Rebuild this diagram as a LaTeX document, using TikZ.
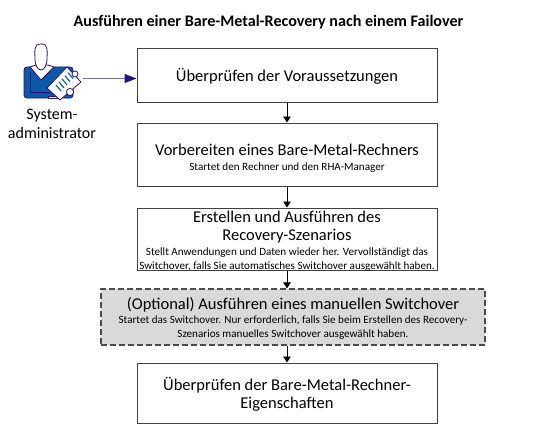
\documentclass[tikz,border=0pt]{standalone}
\usepackage{fontspec}
\setmainfont{Carlito}
\usetikzlibrary{arrows.meta}
\definecolor{navy}{HTML}{2A0F7A}
\definecolor{lineP}{HTML}{7566A8}
\definecolor{iconblue}{HTML}{0B5AA8}
\tikzset{
 stepbox/.style={draw=black!75,line width=1pt,fill=white,minimum width=300pt,align=center,inner sep=0pt},
 optbox/.style={draw=black!70,line width=1.1pt,dash pattern=on 6pt off 3pt,fill=black!15,minimum width=384pt,align=center,inner sep=0pt},
 flow/.style={draw=black,line width=.8pt,-{Triangle[length=6pt,width=7.5pt]}},
 big/.style={font=\fontsize{16.5}{18.5}\selectfont},
 iconln/.style={draw=navy,line width=.8pt,line join=round},
}
\newcommand{\smalltxt}{\fontsize{11.1}{14}\selectfont}
\begin{document}
\begin{tikzpicture}[x=1pt,y=-1pt]
\useasboundingbox[fill=white] (0,0) rectangle (533,428);
\node[font=\bfseries\fontsize{16.1}{18}\selectfont] (title) at (268.5,22) {Ausführen einer Bare-Metal-Recovery nach einem Failover};
\node[stepbox,minimum height=53pt] (a) at (287,75.5) {};
\node[big] (at) at (287,76) {Überprüfen der Voraussetzungen};
\node[stepbox,minimum height=63pt] (b) at (287,154.5) {};
\node[big] (bt) at (287,150) {Vorbereiten eines Bare-Metal-Rechners};
\node[font=\smalltxt] (bs) at (287,167.5) {Startet den Rechner und den RHA-Manager};
\node[stepbox,minimum height=62pt] (c) at (287,239) {};
\node[big,align=center] (ct) at (287,227) {Erstellen und Ausführen des\\Recovery-Szenarios};
\node[font=\smalltxt,align=center] (cs) at (287,260) {Stellt Anwendungen und Daten wieder her. Vervollständigt das\\Switchover, falls Sie automatisches Switchover ausgewählt haben.};
\node[optbox,minimum height=56pt] (d) at (293,317) {};
\node[big] (dt) at (293,305) {(Optional) Ausführen eines manuellen Switchover};
\node[font=\smalltxt,align=center] (ds) at (293,328) {Startet das Switchover. Nur erforderlich, falls Sie beim Erstellen des Recovery-\\Szenarios manuelles Switchover ausgewählt haben.};
\node[stepbox,minimum height=60pt] (e) at (287,393) {};
\node[big,align=center] (et) at (287,394.5) {Überprüfen der Bare-Metal-Rechner-\\Eigenschaften};
\draw[flow] (a) -- (b);
\draw[flow] (b) -- (c);
\draw[flow] (c.south) -- (c.south |- d.north);
\draw[flow] (d.south -| e.north) -- (e.north);
% actor icon
\coordinate (ic) at (83,78.5);
\path[iconln,fill=iconblue,rounded corners=3pt] (24,67) rectangle (73,98);
\path[iconln,fill=white] (30,67) -- (36,65) -- (48,65) -- (54,67) -- (41,80) -- cycle;
\path[iconln,fill=white] (41,44) .. controls (33,44) and (35,52) .. (35,58) .. controls (35,66) and (38,70) .. (41,70) .. controls (44,70) and (47,66) .. (47,58) .. controls (47,52) and (49,44) .. (41,44) -- cycle;
\draw[navy,line width=.8pt] (30,72) -- (30,92) -- (50,92);
\path[iconln,fill=white] (48,96) rectangle (60,98);
\path[iconln,fill=white] (47,88) -- (67,67) -- (81,82) -- (60,100) -- cycle;
\path[iconln,fill=white] (75,74) circle (3pt);
\foreach \i in {0,1,2,3,4}{\draw[iconblue,line width=1.1pt] ({56+\i*3},{85-\i*3.1}) -- ({61+\i*3},{91-\i*3.1});}
\path[iconln,fill=white] (70,92) circle (3.6pt);
\node[font=\fontsize{16}{19}\selectfont,align=center] (adm) at (52,124) {System-\\administrator};
\draw[draw=lineP,line width=1pt,-{Triangle[length=12pt,width=9pt,color=navy]}] (ic) -- (a.west |- ic);
\end{tikzpicture}
\end{document}
